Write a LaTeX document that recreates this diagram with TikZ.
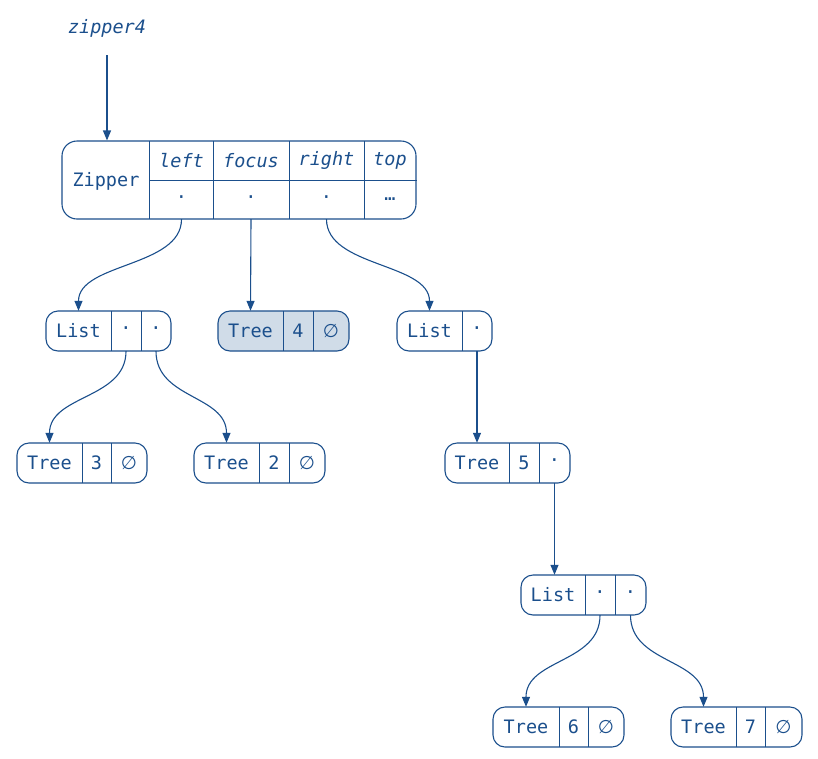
\documentclass[tikz,border=0pt]{standalone}
\usepackage{fontspec}
\newfontfamily\recfont{DejaVu Sans Mono}
\newfontfamily\symfont{DejaVu Sans}
\usetikzlibrary{arrows.meta}
\definecolor{ink}{HTML}{1B4F8C}
\definecolor{focusfill}{HTML}{D0DCE8}
\newcommand{\nul}{{\symfont ∅}}
\tikzset{
  recbox/.style={draw=ink, line width=1.1pt, rounded corners=12pt, inner sep=0pt, minimum height=40pt},
  cell/.style={inner sep=0pt, minimum height=40pt, text=ink, font=\recfont\fontsize{18.5}{20}\selectfont},
  hcell/.style={inner sep=0pt, minimum height=39pt, text=ink, font=\recfont\fontsize{18.5}{20}\selectfont},
  divline/.style={draw=ink, line width=1.1pt},
  edge/.style={draw=ink, line width=1.1pt, -{Triangle[length=10pt,width=8pt]}},
}
\begin{document}
\begin{tikzpicture}[x=1pt,y=-1pt]
\useasboundingbox (0,0) rectangle (818,758);

% label
\node[text=ink, font=\recfont\itshape\fontsize{18.5}{20}\selectfont] (zip4) at (107,28) {zipper4};

% Zipper record
\node[recbox, rounded corners=15pt, minimum width=354pt, minimum height=78pt] (zbox) at (239,180) {};
\node[cell, minimum width=88pt, minimum height=78pt] (zl) at (106,181) {Zipper};
\node[hcell, minimum width=63pt] (zlefth) at (181.5,160.5) {\itshape left};
\node[hcell, minimum width=63pt] (zleft) at (181.5,199.5) {·};
\node[hcell, minimum width=76pt] (zfocush) at (251,160.5) {\itshape focus};
\node[hcell, minimum width=76pt] (zfocus) at (251,199.5) {·};
\node[hcell, minimum width=75pt] (zrighth) at (326.5,160.5) {\itshape right};
\node[hcell, minimum width=75pt] (zright) at (326.5,199.5) {·};
\node[hcell, minimum width=52pt] (ztoph) at (390,160.5) {\itshape top};
\node[hcell, minimum width=52pt] (ztop) at (390,199.5) {…};
\draw[divline] (zlefth.north west) -- (zleft.south west);
\draw[divline] (zlefth.north east) -- (zleft.south east);
\draw[divline] (zfocush.north east) -- (zfocus.south east);
\draw[divline] (zrighth.north east) -- (zright.south east);
\draw[divline] (zlefth.south west) -- (zbox.east |- zlefth.south);

% List1
\node[recbox, minimum width=125pt] (l1box) at (108.5,331) {};
\node[cell, minimum width=65pt] (l1a) at (78.5,331) {List};
\node[cell, minimum width=30pt] (l1b) at (126,331) {·};
\node[cell, minimum width=30pt] (l1c) at (156,331) {·};
\draw[divline] (l1a.north east) -- (l1a.south east);
\draw[divline] (l1b.north east) -- (l1b.south east);

% Tree4 (focus)
\node[recbox, fill=focusfill, minimum width=131pt] (t4box) at (283.5,331) {};
\node[cell, minimum width=65pt] (t4a) at (250.5,331) {Tree};
\node[cell, minimum width=30pt] (t4b) at (298,331) {4};
\node[cell, minimum width=36pt] (t4c) at (331,331) {\nul};
\draw[divline] (t4a.north east) -- (t4a.south east);
\draw[divline] (t4b.north east) -- (t4b.south east);

% List2
\node[recbox, minimum width=95pt] (l2box) at (444.5,331) {};
\node[cell, minimum width=65pt] (l2a) at (429.5,331) {List};
\node[cell, minimum width=30pt] (l2b) at (477,331) {·};
\draw[divline] (l2a.north east) -- (l2a.south east);

% Tree3
\node[recbox, minimum width=130pt] (t3box) at (82,463) {};
\node[cell, minimum width=65pt] (t3a) at (49.5,463) {Tree};
\node[cell, minimum width=29pt] (t3b) at (96.5,463) {3};
\node[cell, minimum width=36pt] (t3c) at (129,463) {\nul};
\draw[divline] (t3a.north east) -- (t3a.south east);
\draw[divline] (t3b.north east) -- (t3b.south east);

% Tree2
\node[recbox, minimum width=131pt] (t2box) at (259.5,463) {};
\node[cell, minimum width=65pt] (t2a) at (226.5,463) {Tree};
\node[cell, minimum width=30pt] (t2b) at (274,463) {2};
\node[cell, minimum width=36pt] (t2c) at (307,463) {\nul};
\draw[divline] (t2a.north east) -- (t2a.south east);
\draw[divline] (t2b.north east) -- (t2b.south east);

% Tree5
\node[recbox, minimum width=125pt] (t5box) at (507.5,463) {};
\node[cell, minimum width=64pt] (t5a) at (477,463) {Tree};
\node[cell, minimum width=30pt] (t5b) at (524,463) {5};
\node[cell, minimum width=31pt] (t5c) at (554.5,463) {·};
\draw[divline] (t5a.north east) -- (t5a.south east);
\draw[divline] (t5b.north east) -- (t5b.south east);

% List3
\node[recbox, minimum width=125pt] (l3box) at (583.5,595) {};
\node[cell, minimum width=64pt] (l3a) at (553,595) {List};
\node[cell, minimum width=30pt] (l3b) at (600,595) {·};
\node[cell, minimum width=31pt] (l3c) at (630.5,595) {·};
\draw[divline] (l3a.north east) -- (l3a.south east);
\draw[divline] (l3b.north east) -- (l3b.south east);

% Tree6
\node[recbox, minimum width=131pt] (t6box) at (558.5,727) {};
\node[cell, minimum width=66pt] (t6a) at (526,727) {Tree};
\node[cell, minimum width=29pt] (t6b) at (573.5,727) {6};
\node[cell, minimum width=36pt] (t6c) at (606,727) {\nul};
\draw[divline] (t6a.north east) -- (t6a.south east);
\draw[divline] (t6b.north east) -- (t6b.south east);

% Tree7
\node[recbox, minimum width=131pt] (t7box) at (736.5,727) {};
\node[cell, minimum width=65pt] (t7a) at (703.5,727) {Tree};
\node[cell, minimum width=29pt] (t7b) at (750.5,727) {7};
\node[cell, minimum width=37pt] (t7c) at (783.5,727) {\nul};
\draw[divline] (t7a.north east) -- (t7a.south east);
\draw[divline] (t7b.north east) -- (t7b.south east);

% connectors
\draw[edge, shorten <=15pt] (zip4.south) -- (zip4.south |- zbox.north);
\draw[edge] (zleft.south) .. controls +(0,48) and +(0,-48) .. (l1a.north);
\draw[edge] (zfocus.south) -- (t4a.north);
\draw[edge] (zright.south) .. controls +(0,48) and +(0,-48) .. (l2a.north);
\draw[edge] (l1b.south) .. controls +(0,48) and +(0,-48) .. (t3a.north);
\draw[edge] (l1c.south) .. controls +(0,48) and +(0,-48) .. (t2a.north);
\draw[edge] (l2b.south) -- (l2b.south |- t5a.north);
\draw[edge] (t5c.south) -- (t5c.south |- l3a.north);
\draw[edge] (l3b.south) .. controls +(0,48) and +(0,-48) .. (t6a.north);
\draw[edge] (l3c.south) .. controls +(0,48) and +(0,-48) .. (t7a.north);
\end{tikzpicture}
\end{document}
